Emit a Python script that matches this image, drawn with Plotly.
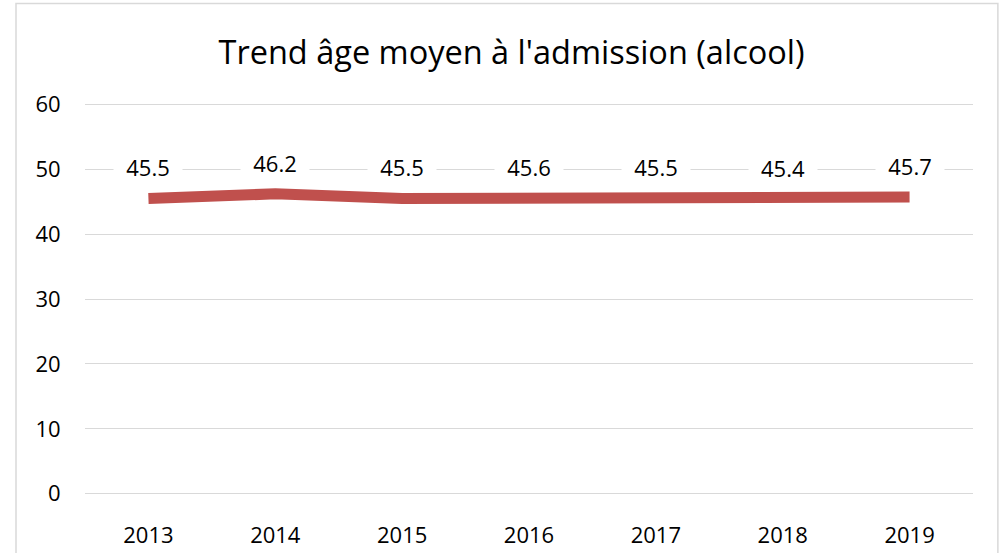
import plotly.graph_objects as go

years = ["2013", "2014", "2015", "2016", "2017", "2018", "2019"]
ages = [45.5, 46.2, 45.5, 45.6, 45.5, 45.4, 45.7]
y_ticks = [0, 10, 20, 30, 40, 50, 60]
title_text = "Trend âge moyen à l'admission (alcool)"

FONT = "Open Sans"
fig = go.Figure()
fig.add_trace(go.Scatter(
    x=years, y=ages, mode="lines",
    line=dict(color="#C0504D", width=11),
    hoverinfo="x+y", showlegend=False,
))

for i, v in enumerate(ages):
    fig.add_annotation(
        x=i, y=v, text=f"{v:.1f}", showarrow=False, yshift=31,
        bgcolor="white", width=62, borderpad=3,
        font=dict(family=FONT, size=22, color="#000000"),
    )

# chart border
fig.add_shape(type="rect", xref="paper", yref="paper",
              x0=-0.0777, x1=1.028, y0=-0.3, y1=1.2538,
              line=dict(color="#D9D9D9", width=1.5), layer="below")

fig.update_layout(
    width=1007, height=553,
    margin=dict(l=85, r=34, t=102.7, b=57.7, autoexpand=False),
    paper_bgcolor="white", plot_bgcolor="white",
    title=dict(text=title_text, x=0.508, xanchor="center", y=0.905, yanchor="middle",
               font=dict(family=FONT, size=32.5, color="#000000")),
    xaxis=dict(type="category", categoryorder="array", categoryarray=years,
               range=[-0.5, 6.5], showgrid=False, showline=False, zeroline=False,
               automargin=False,
               ticks="outside", ticklen=21, tickcolor="rgba(0,0,0,0)",
               tickfont=dict(family=FONT, size=22, color="#000000")),
    yaxis=dict(range=[-0.2, 60.2], tickvals=y_ticks, showgrid=True, gridcolor="#D9D9D9",
               gridwidth=1.3, zeroline=False, showline=False, automargin=False,
               ticks="outside", ticklen=19, tickcolor="rgba(0,0,0,0)",
               tickfont=dict(family=FONT, size=22, color="#000000")),
)
fig.write_html("out.html", config={"displayModeBar": False},
               post_script="document.body.style.margin='0';")
